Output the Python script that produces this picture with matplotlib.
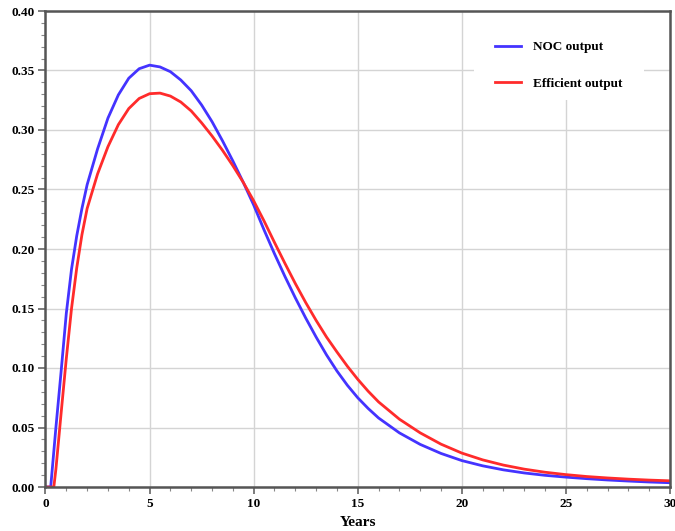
import matplotlib
matplotlib.use("Agg")
import matplotlib.pyplot as plt
from matplotlib.ticker import MultipleLocator, FormatStrFormatter
from matplotlib.patches import Rectangle

# Data
years_noc = [0, 0.25, 0.5, 0.75, 1.0, 1.25, 1.5, 1.75, 2.0, 2.5, 3.0, 3.5, 4.0, 4.5,
             5.0, 5.5, 6.0, 6.5, 7.0, 7.5, 8.0, 8.5, 9.0, 9.5, 10.0, 10.5, 11.0,
             11.5, 12.0, 12.5, 13.0, 13.5, 14.0, 14.5, 15.0, 15.5, 16, 17, 18, 19,
             20, 21, 22, 23, 24, 25, 26, 27, 28, 29, 30]
noc_output = [0, 0, 0.050, 0.097, 0.146, 0.183, 0.211, 0.234, 0.254, 0.284, 0.310,
              0.3295, 0.3435, 0.3515, 0.3545, 0.353, 0.349, 0.342, 0.333, 0.321,
              0.307, 0.291, 0.274, 0.256, 0.237, 0.216, 0.196, 0.177, 0.159, 0.142,
              0.126, 0.111, 0.0975, 0.0855, 0.075, 0.066, 0.058, 0.0455, 0.0358,
              0.0282, 0.0222, 0.0178, 0.0144, 0.0118, 0.0098, 0.0083, 0.0070,
              0.0059, 0.0050, 0.0042, 0.0036]

years_eff = [0, 0.4, 0.5, 0.75, 1.0, 1.25, 1.5, 1.75, 2.0, 2.5, 3.0, 3.5, 4.0, 4.5,
             5.0, 5.5, 6.0, 6.5, 7.0, 7.5, 8.0, 8.5, 9.0, 9.5, 10.0, 10.5, 11.0,
             11.5, 12.0, 12.5, 13.0, 13.5, 14.0, 14.5, 15.0, 15.5, 16, 17, 18, 19,
             20, 21, 22, 23, 24, 25, 26, 27, 28, 29, 30]
efficient_output = [0, 0, 0.015, 0.062, 0.108, 0.150, 0.184, 0.212, 0.234, 0.263,
                    0.286, 0.3045, 0.318, 0.3265, 0.3305, 0.331, 0.3285, 0.3235,
                    0.316, 0.306, 0.295, 0.283, 0.270, 0.256, 0.2405, 0.2235, 0.2055,
                    0.188, 0.171, 0.155, 0.140, 0.126, 0.1135, 0.1015, 0.0905,
                    0.0805, 0.0715, 0.057, 0.0455, 0.036, 0.0285, 0.0228, 0.0184,
                    0.015, 0.0124, 0.0104, 0.0088, 0.0076, 0.0066, 0.0058, 0.0052]

series_labels = ["NOC output", "Efficient output"]
x_label = "Years"

plt.rcParams['font.family'] = ['Liberation Serif', 'DejaVu Serif']
plt.rcParams['font.weight'] = 'bold'

fig = plt.figure(figsize=(6.75, 5.31), dpi=100)
ax = fig.add_axes([45.5 / 675, 1 - 487 / 531, (670 - 45.5) / 675, (487 - 11) / 531])

ax.plot(years_noc, noc_output, color='#4433ff', lw=2.0, label=series_labels[0], zorder=3)
ax.plot(years_eff, efficient_output, color='#ff2b2b', lw=2.0, label=series_labels[1], zorder=3)

ax.set_xlim(0, 30)
ax.set_ylim(0, 0.40)
ax.xaxis.set_major_locator(MultipleLocator(5))
ax.xaxis.set_minor_locator(MultipleLocator(1))
ax.yaxis.set_major_locator(MultipleLocator(0.05))
ax.yaxis.set_minor_locator(MultipleLocator(0.01))
ax.yaxis.set_major_formatter(FormatStrFormatter('%.2f'))

ax.grid(True, which='major', color='#d4d4d4', lw=1.0, zorder=0)
ax.set_axisbelow(True)

for sp in ax.spines.values():
    sp.set_color('#555555')
    sp.set_linewidth(1.8)
    sp.set_zorder(10)

ax.tick_params(which='major', direction='out', length=5, width=1.2, color='#666666',
               labelsize=9.5, pad=3)
ax.tick_params(which='minor', direction='out', length=3, width=0.8, color='#888888')
for lab in ax.get_xticklabels() + ax.get_yticklabels():
    lab.set_fontweight('bold')

ax.set_xlabel(x_label, fontsize=11, fontweight='bold', labelpad=4)

# white legend background (covers grid)
bg = Rectangle((0.686, 0.813), 0.272, 0.187, transform=ax.transAxes,
               facecolor='white', edgecolor='none', zorder=1.5)
ax.add_patch(bg)

leg = ax.legend(loc='upper left', bbox_to_anchor=(0.7198, 0.937),
                frameon=False, prop={'size': 9.5, 'weight': 'bold'},
                handlelength=1.98, handletextpad=0.92, labelspacing=1.85,
                borderpad=0.0, borderaxespad=0.0)
leg.set_zorder(5)

fig.savefig('out.png', dpi=100)
